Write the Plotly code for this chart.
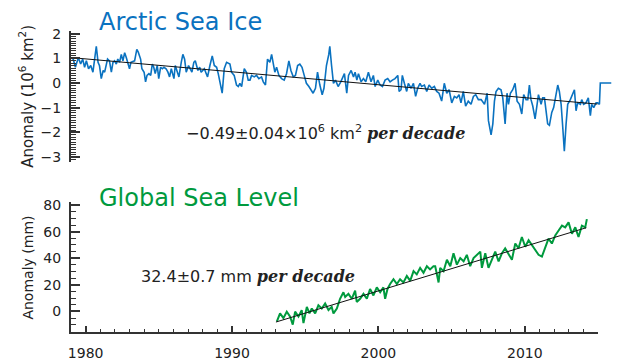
import plotly.graph_objects as go

# ---------------- data ----------------
ice_years = [
    1979.00, 1979.15, 1979.30, 1979.50, 1979.66, 1979.80, 1979.93, 1980.05, 1980.20, 1980.35,
    1980.50, 1980.60, 1980.73, 1980.85, 1980.95, 1981.07, 1981.20, 1981.30, 1981.40, 1981.50,
    1981.63, 1981.76, 1981.87, 1981.98, 1982.10, 1982.20, 1982.32, 1982.44, 1982.55, 1982.67,
    1982.78, 1982.90, 1983.00, 1983.10, 1983.35, 1983.50, 1983.60, 1983.76, 1983.85, 1984.00,
    1984.10, 1984.20, 1984.33, 1984.45, 1984.56, 1984.66, 1984.76, 1984.90, 1985.00, 1985.13,
    1985.25, 1985.36, 1985.50, 1985.63, 1985.74, 1985.86, 1986.04, 1986.13, 1986.25, 1986.38,
    1986.54, 1986.65, 1986.77, 1986.88, 1987.04, 1987.15, 1987.27, 1987.40, 1987.50, 1987.68,
    1987.80, 1987.90, 1988.12, 1988.25, 1988.34, 1988.50, 1988.66, 1988.80, 1988.96, 1989.07,
    1989.25, 1989.34, 1989.48, 1989.64, 1989.87, 1989.98, 1990.16, 1990.32, 1990.44, 1990.55,
    1990.67, 1990.85, 1991.00, 1991.12, 1991.24, 1991.35, 1991.53, 1991.69, 1991.85, 1992.03,
    1992.15, 1992.30, 1992.44, 1992.60, 1992.72, 1992.83, 1992.94, 1993.06, 1993.22, 1993.40,
    1993.58, 1993.74, 1993.90, 1994.04, 1994.20, 1994.35, 1994.50, 1994.65, 1994.80, 1994.95,
    1995.10, 1995.27, 1995.40, 1995.56, 1995.72, 1995.86, 1996.02, 1996.18, 1996.30, 1996.47,
    1996.63, 1996.70, 1996.82, 1996.95, 1997.09, 1997.27, 1997.45, 1997.61, 1997.70, 1997.86,
    1997.98, 1998.16, 1998.32, 1998.43, 1998.55, 1998.66, 1998.84, 1999.00, 1999.16, 1999.34,
    1999.52, 1999.68, 1999.80, 1999.98, 2000.14, 2000.30, 2000.48, 2000.66, 2000.82, 2000.98,
    2001.16, 2001.35, 2001.44, 2001.57, 2001.66, 2001.80, 2001.96, 2002.07, 2002.26, 2002.42,
    2002.57, 2002.71, 2002.87, 2002.98, 2003.17, 2003.33, 2003.49, 2003.67, 2003.85, 2004.01,
    2004.17, 2004.35, 2004.53, 2004.70, 2004.86, 2005.04, 2005.22, 2005.38, 2005.54, 2005.67,
    2005.83, 2005.99, 2006.17, 2006.36, 2006.52, 2006.68, 2006.86, 2007.05, 2007.28, 2007.46,
    2007.55, 2007.73, 2007.85, 2007.96, 2008.07, 2008.23, 2008.41, 2008.53, 2008.69, 2008.82,
    2008.92, 2009.05, 2009.21, 2009.37, 2009.51, 2009.67, 2009.83, 2009.96, 2010.12, 2010.24,
    2010.35, 2010.46, 2010.58, 2010.74, 2010.87, 2010.97, 2011.15, 2011.26, 2011.38, 2011.49,
    2011.60, 2011.72, 2011.88, 2012.01, 2012.17, 2012.29, 2012.40, 2012.52, 2012.63, 2012.74,
    2012.86, 2012.97, 2013.15, 2013.31, 2013.43, 2013.54, 2013.65, 2013.84, 2013.93, 2014.06,
    2014.22, 2014.38, 2014.52, 2014.61, 2014.75, 2014.91, 2015.02, 2015.14, 2015.20, 2015.95,
]
ice_anom = [
    1.03, 0.97, 0.64, 1.03, 0.77, 0.97, 0.64, 0.90, 0.58, 0.71,
    0.44, 0.97, 1.49, 0.84, 0.70, 0.18, 0.51, 0.44, 0.71, 0.97,
    0.90, 0.44, 0.84, 0.90, 0.77, 0.97, 0.84, 1.16, 0.90, 1.23,
    1.03, 0.71, 0.58, 0.84, 0.90, 1.36, 1.25, 0.97, 0.58, 0.44,
    0.05, 0.31, 0.38, 0.31, 0.77, 0.64, 0.38, 0.71, 0.18, 0.64,
    0.58, 0.64, 0.58, 0.44, 0.25, 0.58, 0.18, 0.71, 0.44, 0.25,
    0.84, 1.16, 0.97, 0.44, 0.71, 0.58, 0.44, 0.84, 0.90, 0.51,
    0.64, 0.44, 0.58, 0.38, 0.25, 0.71, 1.10, 0.71, 0.64, 0.38,
    -0.14, -0.41, 0.58, 0.84, 0.77, 0.44, 0.31, -0.08, -0.14, -0.01,
    -0.14, 0.58, 0.44, 0.12, 0.12, 0.31, 0.25, 0.31, 0.18, 0.25,
    0.05, -0.08, 0.97, 0.84, 1.16, 0.71, 0.44, 0.64, 0.31, 0.18,
    0.12, 0.38, 0.90, 0.51, 0.25, 0.31, 0.71, 0.77, 0.64, 0.31,
    -0.01, -0.14, -0.27, -0.41, -0.21, 0.44, -0.08, -0.47, -0.21, 0.71,
    1.16, 1.49, 0.71, -0.01, 0.12, -0.14, 0.05, 0.25, 0.38, -0.41,
    0.31, 0.51, 0.25, 0.44, 0.12, 0.38, 0.05, 0.18, 0.05, 0.44,
    0.05, 0.31, -0.14, 0.12, -0.08, -0.14, 0.12, 0.18, 0.05, 0.12,
    0.18, 0.31, -0.34, -0.27, 0.31, -0.01, -0.34, -0.01, -0.21, -0.01,
    -0.54, -0.21, -0.01, -0.14, -0.08, -0.34, -0.08, -0.21, -0.14, -0.34,
    -0.41, -0.73, -0.01, -0.41, -0.27, -0.80, -0.54, -0.60, -0.47, -0.80,
    -0.34, -0.93, -0.73, -0.86, -0.54, -0.47, -0.67, -0.67, -0.86, -0.41,
    -1.52, -2.10, -1.65, -0.73, -0.34, -0.21, -0.27, -0.60, -1.65, -0.41,
    -0.86, -0.41, -0.27, -0.01, -0.73, -0.86, -1.25, -0.47, -0.67, -0.67,
    -0.08, -0.67, -0.93, -1.45, -0.86, -0.47, -0.86, -0.60, -0.60, -1.06,
    -1.65, -1.71, -1.19, -0.99, -0.47, -0.08, -0.34, -0.86, -1.78, -2.76,
    -1.65, -0.86, -0.67, -0.41, -0.27, -1.12, -0.80, -0.86, -0.67, -0.86,
    -0.80, -0.60, -1.32, -0.86, -0.99, -0.80, -0.80, -0.86, 0.00, 0.00,
]
ice_trend_years = [1979.0, 2015.0]
ice_trend_vals = [1.03, -0.85]

sea_years = [
    1993.06, 1993.28, 1993.51, 1993.74, 1993.97, 1994.15, 1994.31, 1994.54, 1994.76, 1994.88,
    1995.11, 1995.29, 1995.45, 1995.68, 1995.90, 1996.13, 1996.36, 1996.59, 1996.81, 1996.93,
    1997.16, 1997.38, 1997.61, 1997.73, 1997.95, 1998.18, 1998.41, 1998.52, 1998.75, 1998.98,
    1999.21, 1999.43, 1999.66, 1999.89, 2000.12, 2000.34, 2000.46, 2000.62, 2000.80, 2001.03,
    2001.26, 2001.48, 2001.71, 2001.94, 2002.17, 2002.40, 2002.62, 2002.85, 2003.08, 2003.31,
    2003.53, 2003.76, 2003.88, 2004.11, 2004.22, 2004.45, 2004.68, 2004.91, 2005.13, 2005.36,
    2005.59, 2005.82, 2006.04, 2006.27, 2006.50, 2006.73, 2006.96, 2007.07, 2007.30, 2007.52,
    2007.75, 2007.98, 2008.21, 2008.44, 2008.66, 2008.89, 2009.12, 2009.35, 2009.57, 2009.80,
    2010.03, 2010.26, 2010.49, 2010.71, 2010.94, 2011.17, 2011.40, 2011.62, 2011.85, 2012.08,
    2012.31, 2012.54, 2012.76, 2012.99, 2013.22, 2013.45, 2013.67, 2013.90, 2014.13, 2014.24,
]
sea_anom = [
    -7.6, -1.5, -5.1, -0.2, -3.9, -10.0, -0.2, -3.9, 1.0, -8.8,
    3.4, -1.5, 2.2, -1.5, 4.6, 2.2, 5.9, 1.0, 3.4, -1.5,
    2.2, 9.5, 14.4, 10.8, 13.2, 9.5, 15.7, 7.1, 9.5, 13.2,
    9.5, 16.9, 12.0, 18.1, 14.4, 18.1, 9.5, 16.9, 20.6, 24.2,
    20.6, 24.2, 21.8, 26.7, 23.0, 30.3, 27.9, 32.8, 29.1, 34.0,
    31.6, 34.0, 34.0, 21.8, 32.8, 30.3, 38.9, 34.0, 43.8, 35.2,
    40.1, 37.7, 42.6, 34.0, 40.1, 42.6, 45.0, 32.8, 43.8, 32.8,
    38.9, 45.0, 37.7, 43.8, 47.5, 42.6, 38.9, 51.1, 47.5, 56.0,
    48.7, 53.6, 49.9, 46.2, 42.6, 41.3, 48.7, 54.8, 51.1, 57.2,
    60.9, 64.6, 63.3, 67.0, 58.5, 63.3, 56.0, 64.6, 63.3, 69.5,
]
sea_trend_years = [1993.0, 2014.2]
sea_trend_vals = [-8.0, 63.0]

x_tick_vals = [1980, 1990, 2000, 2010]
ice_tick_vals = [2, 1, 0, -1, -2, -3]
sea_tick_vals = [0, 20, 40, 60, 80]

# ---------------- styles ----------------
BLUE = "#0a72c0"
GREEN = "#009a3e"
AX = "#333333"
TXT = "#222222"
SANS = "DejaVu Sans"
SERIF_SPAN = "<b><i><span style='font-family:DejaVu Serif;font-size:16px'>per decade</span></i></b>"

fig = go.Figure()

fig.add_trace(go.Scatter(x=ice_years, y=ice_anom, mode="lines",
                         line=dict(color=BLUE, width=1.6), xaxis="x2", yaxis="y2",
                         showlegend=False))
fig.add_trace(go.Scatter(x=ice_trend_years, y=ice_trend_vals, mode="lines",
                         line=dict(color="#111111", width=1), xaxis="x2", yaxis="y2",
                         showlegend=False))
fig.add_trace(go.Scatter(x=sea_years, y=sea_anom, mode="lines",
                         line=dict(color=GREEN, width=2), xaxis="x", yaxis="y",
                         showlegend=False))
fig.add_trace(go.Scatter(x=sea_trend_years, y=sea_trend_vals, mode="lines",
                         line=dict(color="#111111", width=1), xaxis="x", yaxis="y",
                         showlegend=False))

fig.update_layout(
    width=618, height=361,
    margin=dict(l=71, r=6, t=0, b=27),
    paper_bgcolor="white", plot_bgcolor="white",
    font=dict(family=SANS, size=14, color=TXT),
    xaxis=dict(domain=[0, 0.9741], range=[1979, 2015], tickvals=x_tick_vals,
               ticks="inside", ticklen=6, tickwidth=1.5, tickcolor=AX,
               showline=True, linecolor=AX, linewidth=2, showgrid=False, zeroline=False,
               minor=dict(dtick=1, ticks="inside", ticklen=3, tickwidth=1.2, tickcolor=AX),
               anchor="y", ticklabelstandoff=7),
    yaxis=dict(domain=[0, 0.3973], range=[-15.5, 82], tickvals=sea_tick_vals,
               ticks="inside", ticklen=9, tickwidth=1.5, tickcolor=AX,
               showline=True, linecolor=AX, linewidth=2, showgrid=False, zeroline=False,
               minor=dict(dtick=5, ticks="inside", ticklen=5, tickwidth=1.2, tickcolor=AX),
               anchor="x", ticklabelstandoff=5),
    xaxis2=dict(domain=[0, 1], range=[1979, 2016], visible=False, anchor="y2"),
    yaxis2=dict(domain=[0.521, 0.9228], range=[-3.2, 2.1], tickvals=ice_tick_vals,
                ticks="inside", ticklen=9, tickwidth=1.5, tickcolor=AX,
                showline=True, linecolor=AX, linewidth=2, showgrid=False, zeroline=False,
                minor=dict(dtick=0.1, ticks="inside", ticklen=5, tickwidth=1, tickcolor=AX),
                anchor="x2", ticklabelstandoff=5),
)

ann = [
    dict(text="Arctic Sea Ice", x=97, y=16, color=BLUE, size=24),
    dict(text="Global Sea Level", x=97, y=197, color=GREEN, size=24),
]
for a in ann:
    fig.add_annotation(text=a["text"], xref="paper", yref="paper",
                       x=(a["x"] - 71) / 541, y=1 - a["y"] / 334,
                       xanchor="left", yanchor="middle", showarrow=False,
                       font=dict(family=SANS, size=a["size"], color=a["color"]))

fig.add_annotation(
    text="−0.49±0.04×10<sup>6</sup> km<sup>2</sup> " + SERIF_SPAN,
    xref="paper", yref="paper", x=(184 - 71) / 541, y=1 - 130 / 334,
    xanchor="left", yanchor="middle", showarrow=False,
    font=dict(family=SANS, size=16, color=TXT))
fig.add_annotation(
    text="32.4±0.7 mm " + SERIF_SPAN,
    xref="paper", yref="paper", x=(139 - 71) / 541, y=1 - 277 / 334,
    xanchor="left", yanchor="middle", showarrow=False,
    font=dict(family=SANS, size=16, color=TXT))

fig.add_annotation(text="Anomaly (10<sup>6</sup> km<sup>2</sup>)", textangle=-90,
                   xref="paper", yref="paper", x=(26 - 71) / 541, y=1 - 93 / 334,
                   xanchor="center", yanchor="middle", showarrow=False,
                   font=dict(family=SANS, size=15, color=TXT))
fig.add_annotation(text="Anomaly (mm)", textangle=-90,
                   xref="paper", yref="paper", x=(28 - 71) / 541, y=1 - 268 / 334,
                   xanchor="center", yanchor="middle", showarrow=False,
                   font=dict(family=SANS, size=14, color=TXT))

fig.write_html("out.html", config={"displayModeBar": False},
               post_script="document.body.style.margin='0';")
